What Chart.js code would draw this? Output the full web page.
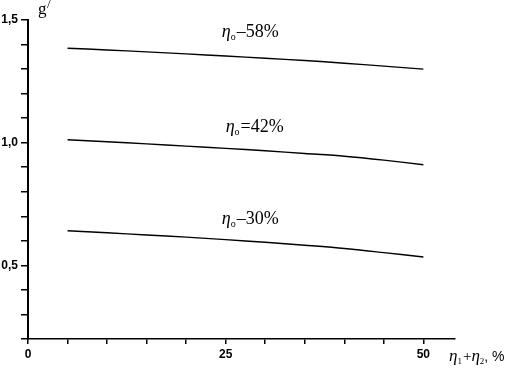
<!DOCTYPE html>
<html>
<head>
<meta charset="utf-8">
<script src="https://cdn.jsdelivr.net/npm/chart.js@4/dist/chart.umd.min.js"></script>
<style>
  html, body { margin: 0; padding: 0; background: #fff; }
  #wrap { width: 514px; height: 368px; }
</style>
</head>
<body>
<div id="wrap"><canvas id="c"></canvas></div>
<script>
// eta1 + eta2, %
const xValues = [5, 10, 15, 20, 25, 30, 35, 40, 45, 50];
// g' for each eta_o
const g58 = [1.385, 1.378, 1.370, 1.362, 1.353, 1.344, 1.335, 1.324, 1.312, 1.300];
const g42 = [1.012, 1.004, 0.995, 0.986, 0.977, 0.967, 0.956, 0.945, 0.929, 0.910];
const g30 = [0.641, 0.633, 0.624, 0.615, 0.605, 0.594, 0.582, 0.569, 0.552, 0.534];

const xTickShown = [0, 25, 50];
const yTickShown = [0.5, 1.0, 1.5];
const yTickText = ['0,5', '1,0', '1,5'];

const curveNames = ['58%', '42%', '30%'];
const curveSigns = ['\u2013', '=', '\u2013'];

const toPts = arr => arr.map((v, i) => ({x: xValues[i], y: v}));

// draws eta with a subscript, returns end x
function etaSub(ctx, x, y, sub, size) {
    ctx.font = 'italic ' + size + 'px "Liberation Serif", "DejaVu Serif", serif';
    ctx.fillText('\u03b7', x, y);
    x += ctx.measureText('\u03b7').width;
    ctx.font = Math.round(size * 0.55) + 'px "Liberation Serif", serif';
    ctx.fillText(sub, x, y + 3);
    return x + ctx.measureText(sub).width + 1;
}

const labelsPlugin = {
    id: 'labels',
    afterDraw(chart) {
        const ctx = chart.ctx;
        const xs = chart.scales.x, ys = chart.scales.y;
        const ca = chart.chartArea;
        ctx.save();
        ctx.fillStyle = '#000';
        ctx.textBaseline = 'alphabetic';
        ctx.textAlign = 'left';

        // curve labels
        const lx = [24.5, 25.0, 24.5];
        const ly = [1.431, 1.042, 0.668];
        curveNames.forEach((nm, i) => {
            let px = xs.getPixelForValue(lx[i]);
            const py = ys.getPixelForValue(ly[i]);
            px = etaSub(ctx, px, py, 'o', 18);
            ctx.font = '18px "Liberation Serif", "DejaVu Serif", serif';
            ctx.fillText(curveSigns[i] + nm, px, py);
        });

        // y title g'
        ctx.font = '17px "Liberation Serif", serif';
        ctx.fillText('g', ca.left + 10, ca.top - 6);
        ctx.font = '13px "Liberation Serif", serif';
        ctx.fillText('/', ca.left + 19, ca.top - 12);

        // x title
        let px = ca.right - 6;
        const py = ca.bottom + 22;
        px = etaSub(ctx, px, py, '1', 17);
        ctx.font = '15px "Liberation Serif", serif';
        ctx.fillText('+', px, py);
        px += ctx.measureText('+').width;
        px = etaSub(ctx, px, py, '2', 17);
        ctx.font = '14px "Liberation Sans", sans-serif';
        ctx.fillText(', %', px - 1, py);
        ctx.restore();
    }
};

const lineStyle = {
    borderColor: '#000',
    borderWidth: 1.4,
    pointRadius: 0,
    fill: false,
    tension: 0.3
};

new Chart(document.getElementById('c'), {
    type: 'scatter',
    data: {
        datasets: [
            Object.assign({label: '58', data: toPts(g58), showLine: true}, lineStyle),
            Object.assign({label: '42', data: toPts(g42), showLine: true}, lineStyle),
            Object.assign({label: '30', data: toPts(g30), showLine: true}, lineStyle)
        ]
    },
    options: {
        responsive: true,
        maintainAspectRatio: false,
        animation: false,
        layout: {padding: {top: 20, right: 59, left: 0, bottom: 0}},
        plugins: {legend: {display: false}, tooltip: {enabled: false}},
        scales: {
            x: {
                type: 'linear',
                min: 0,
                max: 54,
                afterFit: s => { s.height = 29; },
                border: {color: '#000', width: 1.5},
                grid: {drawOnChartArea: false, color: '#000', tickLength: 5, lineWidth: 1.5},
                ticks: {
                    stepSize: 5,
                    includeBounds: false,
                    autoSkip: false,
                    maxRotation: 0,
                    padding: 3,
                    color: '#000',
                    font: {family: '"Liberation Sans", Arial, sans-serif', size: 12, weight: 'bold'},
                    callback: v => xTickShown.some(t => Math.abs(t - v) < 1e-6) ? String(v) : ''
                }
            },
            y: {
                type: 'linear',
                min: 0.2,
                max: 1.5,
                afterFit: s => { s.width = 28; },
                border: {color: '#000', width: 2},
                grid: {drawOnChartArea: false, color: '#000', tickLength: 7, lineWidth: 1.5},
                ticks: {
                    stepSize: 0.1,
                    includeBounds: false,
                    autoSkip: false,
                    padding: 3,
                    color: '#000',
                    font: {family: '"Liberation Sans", Arial, sans-serif', size: 12, weight: 'bold'},
                    callback: v => {
                        const k = yTickShown.findIndex(t => Math.abs(t - v) < 1e-6);
                        return k >= 0 ? yTickText[k] : '';
                    }
                }
            }
        }
    },
    plugins: [labelsPlugin]
});
</script>
</body>
</html>
